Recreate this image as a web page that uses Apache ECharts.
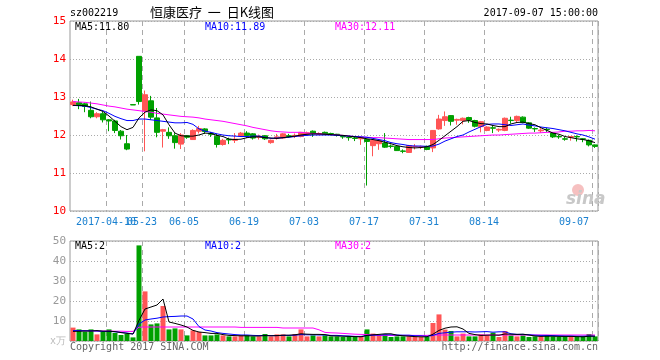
<!DOCTYPE html>
<html><head><meta charset="utf-8">
<script src="https://cdn.jsdelivr.net/npm/echarts@6/dist/echarts.min.js"></script>
<style>html,body{margin:0;padding:0;background:#fff}#c{width:660px;height:360px}</style>
</head><body><div id="c"></div>
<script>
// ---- data ----
const dates = ['03-29','03-30','03-31','04-05','04-06','04-07','04-10','04-11','04-12','04-13','04-14','05-22','05-23','05-24','05-25','05-26','05-31','06-01','06-02','06-05',
'06-06','06-07','06-08','06-09','06-12','06-13','06-14','06-15','06-16','06-19','06-20','06-21','06-22','06-23','06-26','06-27','06-28','06-29','06-30','07-03',
'07-04','07-05','07-06','07-07','07-10','07-11','07-12','07-13','07-14','07-17','07-18','07-19','07-20','07-21','07-24','07-25','07-26','07-27','07-28','07-31',
'08-01','08-02','08-03','08-04','08-07','08-08','08-09','08-10','08-11','08-14','08-15','08-16','08-17','08-18','08-21','08-22','08-23','08-24','08-25','08-28',
'08-29','08-30','08-31','09-01','09-04','09-05','09-06','09-07'];
const tickIdx = [6,12,19,29,39,49,59,69,87];
const firstYear = '2017-';
const opens  = [12.80,12.85,12.82,12.65,12.48,12.56,12.40,12.37,12.10,11.77,12.80,14.07,12.64,12.90,12.45,12.10,12.07,11.98,11.76,11.98,
11.88,12.10,12.16,12.04,11.97,11.75,11.89,11.86,11.97,12.05,12.03,11.94,11.98,11.80,11.92,11.92,11.98,11.97,11.96,12.02,
12.10,12.02,12.07,12.04,12.02,11.96,11.94,11.92,11.90,11.88,11.72,11.77,11.79,11.71,11.70,11.58,11.54,11.69,11.68,11.70,
11.66,12.16,12.38,12.51,12.39,12.38,12.46,12.38,12.22,12.12,12.19,12.13,12.12,12.39,12.38,12.47,12.32,12.17,12.11,12.15,
12.05,11.96,11.90,11.94,11.96,11.90,11.86,11.74];
const closes = [12.87,12.80,12.75,12.48,12.56,12.40,12.37,12.12,11.98,11.63,12.79,12.88,13.06,12.47,12.07,12.14,11.98,11.80,12.00,11.94,
12.12,12.17,12.09,12.02,11.75,11.86,11.87,11.89,12.05,11.99,11.92,11.97,11.90,11.86,11.95,12.03,11.96,11.99,12.07,12.06,
12.03,12.04,12.02,12.03,12.00,11.95,11.93,11.91,11.93,11.83,11.86,11.85,11.68,11.70,11.59,11.57,11.72,11.70,11.69,11.62,
12.12,12.42,12.48,12.36,12.41,12.44,12.39,12.23,12.35,12.21,12.18,12.15,12.44,12.38,12.49,12.33,12.18,12.16,12.13,12.14,
11.95,11.95,11.89,11.96,11.95,11.89,11.74,11.70];
const lows   = [12.76,12.68,12.60,12.44,12.44,12.33,12.10,12.05,11.88,11.60,12.79,12.80,11.57,12.40,11.94,11.67,11.90,11.64,11.63,11.90,
11.87,12.04,12.03,11.95,11.67,11.72,11.76,11.79,11.95,11.92,11.88,11.88,11.87,11.77,11.88,11.90,11.93,11.92,11.94,11.98,
11.95,12.00,12.00,11.99,11.96,11.90,11.85,11.84,11.74,10.67,11.44,11.61,11.66,11.65,11.58,11.52,11.53,11.62,11.63,11.60,
11.55,12.14,12.24,12.25,12.27,12.28,12.32,12.20,12.07,12.10,12.05,12.08,12.10,12.30,12.33,12.31,12.16,12.08,12.06,12.08,
11.92,11.90,11.85,11.85,11.83,11.81,11.70,11.66];
const highs  = [12.93,12.95,12.85,12.88,12.60,12.62,12.42,12.40,12.13,12.00,12.80,14.07,13.17,13.03,12.71,12.16,12.20,12.05,12.05,12.00,
12.15,12.24,12.18,12.08,12.03,11.90,11.93,12.05,12.08,12.10,12.05,12.01,12.00,11.88,12.03,12.05,12.03,12.04,12.08,12.09,
12.12,12.07,12.09,12.06,12.03,11.98,11.96,11.95,11.95,11.90,11.88,11.87,12.05,11.75,11.72,11.62,11.74,11.76,11.72,11.72,
12.13,12.53,12.62,12.52,12.43,12.46,12.48,12.40,12.37,12.23,12.26,12.17,12.46,12.48,12.51,12.49,12.34,12.20,12.18,12.19,
12.06,12.00,11.95,11.97,11.99,11.92,11.88,11.75];
const ma5  = [12.78,12.78,12.77,12.74,12.68,12.62,12.50,12.36,12.22,12.14,12.20,12.45,12.60,12.66,12.64,12.53,12.27,12.05,11.98,11.97,
11.97,12.00,12.05,12.04,11.99,11.96,11.89,11.88,11.89,11.93,11.95,11.95,11.93,11.92,11.91,11.93,11.95,11.97,12.00,12.02,
12.03,12.03,12.02,12.01,12.00,11.99,11.97,11.95,11.93,11.90,11.88,11.85,11.81,11.77,11.72,11.69,11.67,11.66,11.67,11.69,
11.75,11.86,11.98,12.10,12.22,12.36,12.38,12.33,12.30,12.29,12.25,12.22,12.22,12.29,12.33,12.34,12.30,12.27,12.19,12.12,
12.05,12.02,11.96,11.93,11.90,11.88,11.85,11.80];
const ma10 = [12.78,12.77,12.76,12.72,12.68,12.64,12.57,12.49,12.43,12.38,12.38,12.42,12.42,12.40,12.38,12.36,12.34,12.32,12.32,12.33,
12.28,12.16,12.10,12.07,12.03,12.00,11.98,11.97,11.96,11.96,11.97,11.97,11.94,11.91,11.92,11.93,11.94,11.96,11.98,11.99,
12.00,12.00,12.00,12.00,11.99,11.98,11.97,11.96,11.95,11.94,11.91,11.88,11.85,11.80,11.77,11.75,11.72,11.71,11.71,11.70,
11.71,11.76,11.84,11.90,11.96,12.00,12.08,12.15,12.22,12.28,12.29,12.29,12.27,12.25,12.27,12.29,12.26,12.24,12.21,12.19,
12.17,12.14,12.11,12.07,12.03,12.00,11.95,11.89];
const ma30 = [12.88,12.87,12.86,12.84,12.82,12.79,12.76,12.74,12.71,12.68,12.66,12.64,12.62,12.60,12.57,12.55,12.53,12.51,12.49,12.48,
12.47,12.45,12.42,12.40,12.38,12.36,12.33,12.30,12.27,12.24,12.20,12.17,12.14,12.11,12.09,12.08,12.07,12.07,12.07,12.05,
12.04,12.03,12.02,12.01,12.00,11.99,11.97,11.96,11.95,11.94,11.93,11.93,11.92,11.91,11.90,11.89,11.88,11.88,11.88,11.88,
11.88,11.90,11.92,11.93,11.94,11.95,11.96,11.97,11.98,11.99,12.00,12.00,12.01,12.02,12.03,12.04,12.05,12.05,12.06,12.07,
12.07,12.08,12.10,12.10,12.11,12.11,12.12,12.11];
const volumes = [6.7,5.8,4.7,5.8,3.3,4.7,5.8,4.0,3.0,3.5,1.8,47.8,24.8,8.3,8.8,17.5,5.8,6.3,5.8,2.8,
5.3,4.5,2.8,2.8,3.3,2.8,2.3,2.3,2.8,2.8,2.3,2.3,3.5,2.3,3.3,3.3,2.3,3.5,5.8,2.3,
2.8,2.3,2.8,2.3,2.3,2.0,2.3,2.0,2.0,5.8,3.7,3.0,3.3,2.0,2.3,2.3,2.3,2.0,2.0,2.0,
9.0,13.3,5.7,5.0,2.3,3.7,2.3,2.3,3.3,2.8,4.2,2.0,5.0,2.8,2.3,2.8,2.0,2.3,2.3,2.8,
2.3,2.0,2.3,2.0,2.0,2.3,3.5,2.3];
const vma5 = [4.8,4.9,5.0,5.0,5.2,4.9,4.9,4.7,4.2,3.8,3.5,10.3,16.0,17.0,18.0,21.0,9.5,8.8,8.0,7.0,
5.3,4.5,4.2,3.8,3.8,3.2,2.8,2.7,2.6,2.6,2.5,2.5,2.7,2.6,2.7,2.9,2.9,3.1,3.6,3.4,
3.3,3.3,3.2,2.6,2.5,2.4,2.3,2.2,2.1,2.8,3.1,3.3,3.6,3.6,2.9,2.6,2.4,2.2,2.1,2.1,
3.4,5.3,6.4,7.0,7.1,6.0,3.8,3.2,2.8,2.9,3.0,2.9,3.5,3.4,3.3,3.4,3.0,2.5,2.3,2.4,
2.4,2.3,2.3,2.3,2.2,2.1,2.4,2.4];
const vma10 = [5.2,5.2,5.1,5.1,5.0,4.8,4.8,4.6,4.3,4.0,3.5,8.5,10.5,11.0,11.4,12.0,12.2,12.3,12.5,12.5,
11.0,7.2,5.5,5.0,4.2,3.8,3.5,3.2,3.0,3.0,2.8,2.7,2.8,2.7,2.7,2.8,2.8,2.9,3.2,3.1,
3.1,3.0,3.0,2.8,2.8,2.6,2.5,2.3,2.3,2.7,2.9,3.0,3.1,3.1,3.0,2.9,2.9,2.6,2.6,2.3,
2.8,3.8,4.1,4.4,4.6,4.6,4.6,4.5,4.6,4.7,4.4,4.6,4.6,3.6,3.3,3.3,3.1,2.9,2.8,2.8,
2.7,2.6,2.5,2.5,2.4,2.4,2.5,2.4];
const vma30 = [5.2,5.2,5.1,5.1,5.0,5.0,5.0,4.9,4.9,4.8,4.8,6.9,7.0,7.0,7.0,7.0,7.0,7.0,7.0,7.0,
7.0,7.0,7.0,7.0,7.0,7.0,7.0,7.0,6.8,6.8,6.8,6.8,6.8,6.8,6.8,6.5,6.5,6.5,6.5,6.5,
6.5,5.6,4.3,4.1,4.0,3.8,3.6,3.4,3.3,3.2,3.0,2.8,2.8,2.8,2.8,2.8,2.8,2.8,2.8,2.8,
3.0,3.0,3.0,3.0,3.0,3.0,3.0,3.0,3.0,3.0,3.0,3.0,3.0,3.0,3.0,3.0,3.0,3.0,3.0,3.0,
3.0,3.0,3.0,3.0,3.0,3.0,3.0,3.0];
const priceTicks = {min:10, max:15, step:1};
const volTicks = {min:0, max:50, step:10};

// ---- chart ----
const UP = '#ff5555', DOWN = '#00a000';
const MONO = '"DejaVu Sans Mono", "Liberation Mono", monospace';
const isUp = i => closes[i] > opens[i] || (closes[i] === opens[i] && i > 0 && closes[i] >= closes[i-1]);
const kData = dates.map((d,i)=>[opens[i], closes[i], lows[i], highs[i]]);
const vData = volumes.map((v,i)=>({value:v, itemStyle:{color: isUp(i)?UP:DOWN}}));
const showTick = idx => tickIdx.indexOf(idx) >= 0;
const vSplit = {show:true, interval:(i)=>showTick(i), lineStyle:{color:'#aaa', type:[5,4], width:1}};
const hSplit = {show:true, lineStyle:{color:'#aaa', type:[1,2], width:1}};
const L = 70, R = 62;
const labelBase = {color:'#1a80d0', fontFamily:MONO, fontSize:10, margin:6, padding:[0,6,0,0], hideOverlap:false};

const chart = echarts.init(document.getElementById('c'), null, {renderer:'canvas'});
const txt = (text, x, y, fill, opts={}) => ({type:'text', x, y, silent:true, z:100,
  style:Object.assign({text, fill, font:'10px '+MONO, verticalAlign:'middle', align:'left'}, opts)});

chart.setOption({
  animation:false,
  backgroundColor:'#fff',
  grid:[
    {left:L, right:R, top:21, height:190, show:true, borderColor:'#999', borderWidth:1},
    {left:L, right:R, top:241, height:100, show:true, borderColor:'#999', borderWidth:1}
  ],
  xAxis:[
    {type:'category', gridIndex:0, data:dates, boundaryGap:true, position:'bottom',
     axisLine:{show:false}, axisTick:{show:false},
     axisLabel:Object.assign({}, labelBase, {interval:(i)=>showTick(i) && i!==tickIdx[0], alignMaxLabel:'right'}),
     splitLine:vSplit},
    {type:'category', gridIndex:1, data:dates, boundaryGap:true,
     axisLine:{show:false}, axisTick:{show:false}, axisLabel:{show:false}, splitLine:vSplit},
    // overlay axis carrying only the first (year-prefixed) date label, which overlaps its neighbour as in the original
    {type:'category', gridIndex:0, data:dates, boundaryGap:true, position:'bottom', offset:0,
     axisLine:{show:false}, axisTick:{show:false}, splitLine:{show:false},
     axisLabel:Object.assign({}, labelBase, {interval:(i)=>i===tickIdx[0], formatter:(v)=>firstYear+v})}
  ],
  yAxis:[
    {type:'value', gridIndex:0, min:priceTicks.min, max:priceTicks.max, interval:priceTicks.step,
     axisLine:{show:false}, axisTick:{show:false},
     axisLabel:{color:'#ff0000', fontFamily:MONO, fontSize:11, margin:4}, splitLine:hSplit},
    {type:'value', gridIndex:1, min:volTicks.min, max:volTicks.max, interval:volTicks.step,
     axisLine:{show:false}, axisTick:{show:false},
     axisLabel:{color:'#999', fontFamily:MONO, fontSize:11, margin:4,
       formatter:(v)=> v===0 ? '{u|x万}' : String(v),
       rich:{u:{color:'#bbb', fontFamily:MONO, fontSize:10}}},
     splitLine:hSplit}
  ],
  series:[
    {type:'candlestick', xAxisIndex:0, yAxisIndex:0, data:kData, barWidth:5,
     itemStyle:{color:UP, color0:DOWN, borderColor:UP, borderColor0:DOWN, borderWidth:1}},
    {type:'line', xAxisIndex:0, yAxisIndex:0, data:ma30, symbol:'none', lineStyle:{color:'#ff00ff', width:1}},
    {type:'line', xAxisIndex:0, yAxisIndex:0, data:ma10, symbol:'none', lineStyle:{color:'#0000ff', width:1}},
    {type:'line', xAxisIndex:0, yAxisIndex:0, data:ma5, symbol:'none', lineStyle:{color:'#000000', width:1}},
    {type:'bar', xAxisIndex:1, yAxisIndex:1, data:vData, barWidth:5},
    {type:'line', xAxisIndex:1, yAxisIndex:1, data:vma30, symbol:'none', lineStyle:{color:'#ff00ff', width:1}},
    {type:'line', xAxisIndex:1, yAxisIndex:1, data:vma10, symbol:'none', lineStyle:{color:'#0000ff', width:1}},
    {type:'line', xAxisIndex:1, yAxisIndex:1, data:vma5, symbol:'none', lineStyle:{color:'#000000', width:1}}
  ],
  graphic:[
    txt('sz002219', 70, 13, '#000'),
    txt('恒康医疗  一  日K线图', 150, 12, '#000', {font:'13px "Noto Sans CJK SC", sans-serif'}),
    txt('2017-09-07 15:00:00', 598, 13, '#000', {align:'right'}),
    txt('MA5:11.80', 75, 27, '#000'),
    txt('MA10:11.89', 205, 27, '#0000ff'),
    txt('MA30:12.11', 335, 27, '#ff00ff'),
    txt('MA5:2', 75, 246, '#000'),
    txt('MA10:2', 205, 246, '#0000ff'),
    txt('MA30:2', 335, 246, '#ff00ff'),
    txt('Copyright 2017 SINA.COM', 70, 347, '#666'),
    txt('http://finance.sina.com.cn', 598, 347, '#666', {align:'right'}),
    {type:'circle', shape:{cx:578, cy:190, r:6}, style:{fill:'#f6c0c0'}, silent:true, z:90},
    txt('sina', 566, 200, '#c8c8c8', {font:'italic bold 17px "DejaVu Sans", sans-serif'})
  ]
});
</script></body></html>
